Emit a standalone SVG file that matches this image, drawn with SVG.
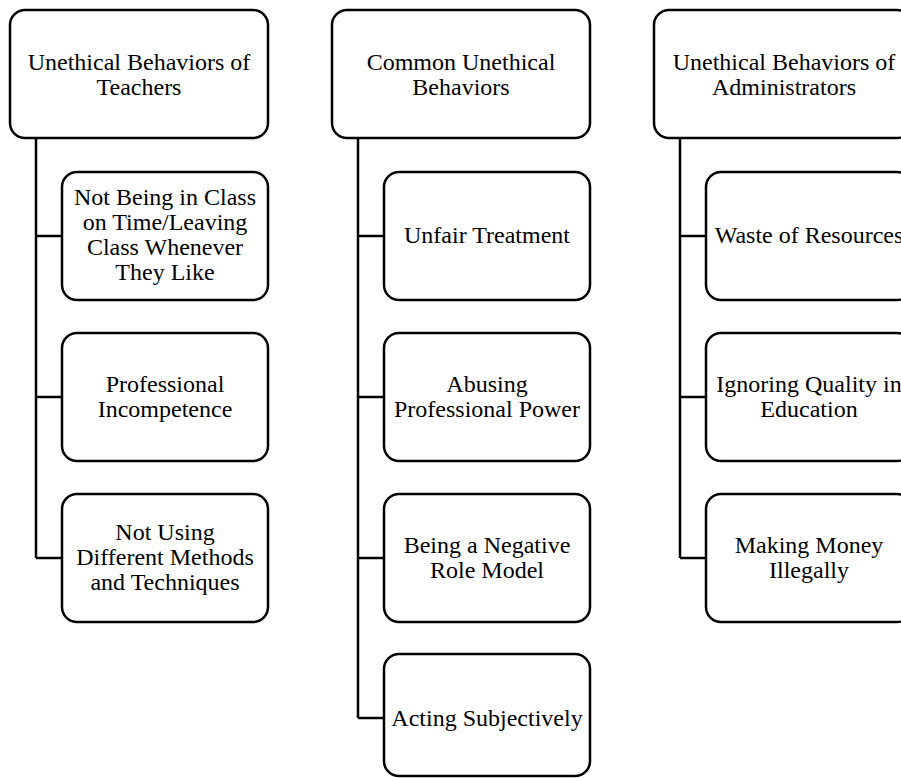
<svg xmlns="http://www.w3.org/2000/svg" width="901" height="778" viewBox="0 0 901 778">
<style>
.box{fill:#fff;stroke:#000;stroke-width:2.5}
.ln{fill:none;stroke:#000;stroke-width:2.5}
text{font-family:"Liberation Serif","Times New Roman",serif;font-size:24px;fill:#000;text-anchor:middle}
</style>
<rect width="901" height="778" fill="#fff"/>
<g id="connectors">
<path class="ln" d="M36 138V558M36 236H62M36 397H62M36 558H62"/>
<path class="ln" d="M358 138V718M358 236H384M358 397H384M358 558H384M358 718H384"/>
<path class="ln" d="M680 138V558M680 236H706M680 397H706M680 558H706"/>
</g>
<g id="teachers">
<rect class="box" x="10" y="10" width="258" height="128" rx="15"/>
<text x="139" y="70">Unethical Behaviors of</text>
<text x="139" y="95">Teachers</text>
</g>
<g id="t1">
<rect class="box" x="62" y="172" width="206" height="128" rx="15"/>
<text x="165" y="205">Not Being in Class</text>
<text x="165" y="230">on Time/Leaving</text>
<text x="165" y="255">Class Whenever</text>
<text x="165" y="280">They Like</text>
</g>
<g id="t2">
<rect class="box" x="62" y="333" width="206" height="128" rx="15"/>
<text x="165" y="392">Professional</text>
<text x="165" y="417">Incompetence</text>
</g>
<g id="t3">
<rect class="box" x="62" y="494" width="206" height="128" rx="15"/>
<text x="165" y="540">Not Using</text>
<text x="165" y="565">Different Methods</text>
<text x="165" y="590">and Techniques</text>
</g>
<g id="common">
<rect class="box" x="332" y="10" width="258" height="128" rx="15"/>
<text x="461" y="70">Common Unethical</text>
<text x="461" y="95">Behaviors</text>
</g>
<g id="c1">
<rect class="box" x="384" y="172" width="206" height="128" rx="15"/>
<text x="487" y="243">Unfair Treatment</text>
</g>
<g id="c2">
<rect class="box" x="384" y="333" width="206" height="128" rx="15"/>
<text x="487" y="392">Abusing</text>
<text x="487" y="417">Professional Power</text>
</g>
<g id="c3">
<rect class="box" x="384" y="494" width="206" height="128" rx="15"/>
<text x="487" y="553">Being a Negative</text>
<text x="487" y="578">Role Model</text>
</g>
<g id="c4">
<rect class="box" x="384" y="654" width="206" height="122" rx="15"/>
<text x="487" y="726">Acting Subjectively</text>
</g>
<g id="administrators">
<rect class="box" x="654" y="10" width="258" height="128" rx="15"/>
<text x="784" y="70">Unethical Behaviors of</text>
<text x="784" y="95">Administrators</text>
</g>
<g id="a1">
<rect class="box" x="706" y="172" width="206" height="128" rx="15"/>
<text x="809" y="243">Waste of Resources</text>
</g>
<g id="a2">
<rect class="box" x="706" y="333" width="206" height="128" rx="15"/>
<text x="809" y="392">Ignoring Quality in</text>
<text x="809" y="417">Education</text>
</g>
<g id="a3">
<rect class="box" x="706" y="494" width="206" height="128" rx="15"/>
<text x="809" y="553">Making Money</text>
<text x="809" y="578">Illegally</text>
</g>
</svg>
